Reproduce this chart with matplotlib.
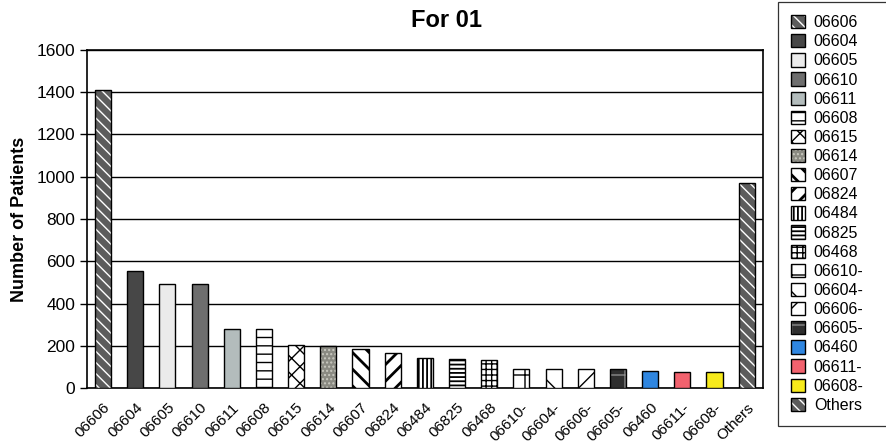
import matplotlib
matplotlib.use("Agg")
import matplotlib.pyplot as plt
from matplotlib.patches import Rectangle

plt.rcParams['font.family'] = ['Liberation Sans', 'DejaVu Sans']

# patient counts per code
codes = ['06606', '06604', '06605', '06610', '06611', '06608', '06615', '06614',
         '06607', '06824', '06484', '06825', '06468', '06610-', '06604-', '06606-',
         '06605-', '06460', '06611-', '06608-', 'Others']
patients = [1410, 555, 490, 490, 280, 278, 205, 198,
            185, 168, 140, 137, 132, 92, 92, 92,
            90, 80, 78, 74, 970]

# fill colour, hatch, hatch colour for each bar
styles = [
    ('#5c5c5c', '\\\\\\', 'white'),
    ('#474747', None, 'black'),
    ('#ebebeb', None, 'black'),
    ('#6e6e6e', None, 'black'),
    ('#b3bcbc', None, 'black'),
    ('white', '--', 'black'),
    ('white', 'xx', 'black'),
    ('#8a8a82', '....', '#c9c9c0'),
    ('white', '\\\\', 'black'),
    ('white', '//', 'black'),
    ('white', '||||', 'black'),
    ('white', '----', 'black'),
    ('white', '+++', 'black'),
    ('white', '+', 'black'),
    ('white', '\\', 'black'),
    ('white', '/', 'black'),
    ('#2e2e2e', '+', '#8a8a8a'),
    ('#2f86e0', None, 'black'),
    ('#f2626e', None, 'black'),
    ('#f7ea1b', None, 'black'),
    ('#5c5c5c', '\\\\\\', 'white'),
]
# hatch line widths (default 1.0)
hatch_lw = {'\\\\': 2.0, '//': 2.0, '||||': 1.3, '----': 1.3}

fig = plt.figure(figsize=(8.87, 4.46), dpi=100)
ax = fig.add_axes([0.098, 0.130, 0.762, 0.758])

handles = []
for i, (code, n) in enumerate(zip(codes, patients)):
    fc, hatch, hc = styles[i]
    b1 = ax.bar(i, n, width=0.5, color=fc, edgecolor=hc, hatch=hatch,
                linewidth=0, zorder=3)
    b2 = ax.bar(i, n, width=0.5, facecolor='none', edgecolor='black',
                linewidth=1.0, zorder=4)
    handles.append((b1.patches[0], b2.patches[0]))

ax.set_xlim(-0.5, len(codes) - 0.5)
ax.set_ylim(0, 1600)
ax.set_yticks(range(0, 1601, 200))
ax.set_xticks(range(len(codes)))
ax.set_xticklabels(codes, rotation=45, ha='right', rotation_mode='anchor',
                   fontsize=11)
ax.tick_params(axis='x', length=0, pad=9)
ax.tick_params(axis='y', direction='out', length=5, width=1, labelsize=12.5)
ax.yaxis.grid(True, color='black', linewidth=1.0, zorder=0)
ax.set_axisbelow(True)
for s in ax.spines.values():
    s.set_linewidth(1.2)

ax.set_ylabel('Number of Patients', fontsize=13, fontweight='bold', labelpad=6)
fig.text(0.503, 0.955, 'For 01', ha='center', va='center', fontsize=17,
         fontweight='bold')

leg = fig.legend(handles, codes, loc='upper left',
                 bbox_to_anchor=(0.877, 0.0, 0.128, 0.995), mode='expand',
                 borderaxespad=0, fontsize=11.5, handlelength=0.9, handleheight=0.9,
                 handletextpad=0.55, labelspacing=0.25, frameon=True, fancybox=False,
                 edgecolor='black', borderpad=0.8)
leg.get_frame().set_linewidth(0.9)


def with_hatch_lw(patch, lw):
    if hasattr(patch, 'set_hatch_linewidth'):
        patch.set_hatch_linewidth(lw)
    draw = patch.draw

    def wrapped(renderer):
        with plt.rc_context({'hatch.linewidth': lw}):
            draw(renderer)
    patch.draw = wrapped


for p in fig.findobj(Rectangle):
    h = p.get_hatch()
    if h in hatch_lw:
        with_hatch_lw(p, hatch_lw[h])

fig.savefig('out.png', dpi=100)
